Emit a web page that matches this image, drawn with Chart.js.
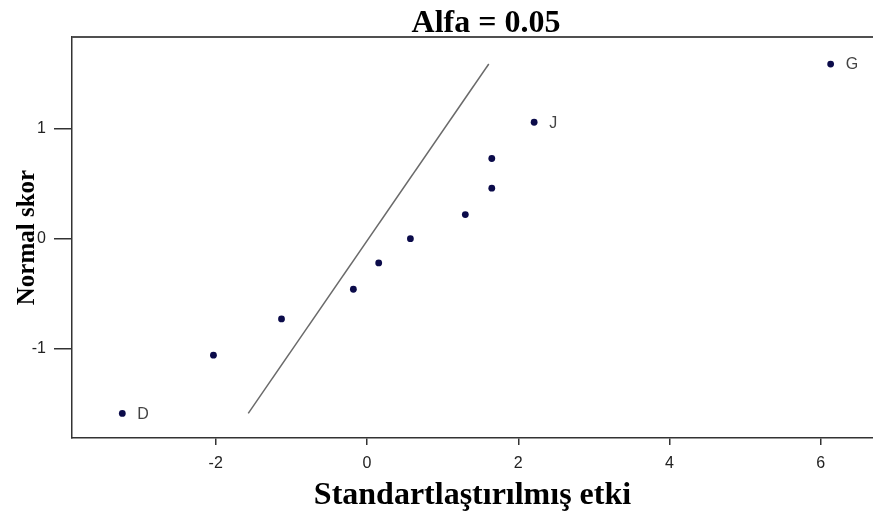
<!DOCTYPE html>
<html><head><meta charset="utf-8">
<script src="https://cdn.jsdelivr.net/npm/chart.js@4"></script>
<style>html,body{margin:0;padding:0;background:#fff;} canvas{display:block}</style>
</head><body>
<canvas id="c" width="873" height="515"></canvas>
<script>
const effectX = [-3.235, -2.03, -1.13, -0.18, 0.155, 0.574, 1.30, 1.65, 1.65, 2.21, 6.13];
const normalScore = [-1.59, -1.06, -0.73, -0.46, -0.22, 0, 0.22, 0.46, 0.73, 1.06, 1.59];
const pointNames = ['D', '', '', '', '', '', '', '', '', 'J', 'G'];
const refLineX = [-1.57, 1.61];
const refLineY = [-1.59, 1.59];
const xTicks = [-2, 0, 2, 4, 6];
const yTicks = [-1, 0, 1];
const titleText = 'Alfa = 0.05';
const xTitle = 'Standartlaştırılmış etki';
const yTitle = 'Normal skor';

const pts = effectX.map((x, i) => ({x: x, y: normalScore[i]}));
const linePts = refLineX.map((x, i) => ({x: x, y: refLineY[i]}));

const extras = {
  id: 'extras',
  afterDatasetsDraw(chart) {
    const ctx = chart.ctx;
    const meta = chart.getDatasetMeta(1);
    ctx.save();
    ctx.font = '16px "Liberation Sans", Arial, sans-serif';
    ctx.fillStyle = '#444';
    ctx.textAlign = 'left';
    ctx.textBaseline = 'middle';
    pointNames.forEach((n, i) => {
      if (!n) return;
      const el = meta.data[i];
      ctx.fillText(n, el.x + 15, el.y + 1);
    });
    ctx.restore();
  },
  afterDraw(chart) {
    const ctx = chart.ctx;
    const a = chart.chartArea;
    ctx.save();
    ctx.strokeStyle = '#505050';
    ctx.lineWidth = 2;
    ctx.beginPath();
    ctx.moveTo(a.left, a.top);
    ctx.lineTo(a.right, a.top);
    ctx.stroke();
    ctx.font = 'bold 32px "Liberation Serif", "Times New Roman", serif';
    ctx.fillStyle = '#000';
    ctx.textAlign = 'center';
    ctx.textBaseline = 'alphabetic';
    ctx.fillText(titleText, 486, 32);
    ctx.restore();
  }
};

new Chart(document.getElementById('c'), {
  type: 'scatter',
  data: {
    datasets: [
      {
        type: 'line',
        data: linePts,
        borderColor: '#6a6a6a',
        borderWidth: 1.5,
        pointRadius: 0,
        fill: false,
        showLine: true
      },
      {
        data: pts,
        backgroundColor: '#0b0b4a',
        borderColor: '#0b0b4a',
        pointRadius: 3.4,
        pointBorderWidth: 0
      }
    ]
  },
  options: {
    responsive: false,
    animation: false,
    devicePixelRatio: 1,
    layout: {autoPadding: false, padding: {top: 37, left: 0, right: 0, bottom: 0}},
    plugins: {legend: {display: false}, tooltip: {enabled: false}, title: {display: false}},
    scales: {
      x: {
        type: 'linear',
        min: -3.9,
        max: 6.69,
        afterBuildTicks: s => { s.ticks = xTicks.map(v => ({value: v})); },
        afterFit: s => { s.height = 77; s.paddingLeft = 0; s.paddingRight = 0; },
        grid: {drawOnChartArea: false, drawTicks: true, tickLength: 7, color: '#333', lineWidth: 1.5},
        border: {display: true, color: '#333', width: 1.5},
        ticks: {font: {family: '"Liberation Sans", Arial, sans-serif', size: 16}, color: '#222', padding: 9},
        title: {display: true, text: xTitle, color: '#000', font: {family: '"Liberation Serif", "Times New Roman", serif', size: 32, weight: 'bold'}, padding: {top: 0, bottom: 0}}
      },
      y: {
        type: 'linear',
        min: -1.814,
        max: 1.836,
        afterBuildTicks: s => { s.ticks = yTicks.map(v => ({value: v})); },
        afterFit: s => { s.width = 72; s.paddingTop = 0; s.paddingBottom = 0; },
        grid: {drawOnChartArea: false, drawTicks: true, tickLength: 18, color: '#333', lineWidth: 1.5},
        border: {display: true, color: '#333', width: 1.5},
        ticks: {font: {family: '"Liberation Sans", Arial, sans-serif', size: 16}, color: '#222', padding: 8},
        title: {display: true, text: yTitle, color: '#000', font: {family: '"Liberation Serif", "Times New Roman", serif', size: 25, weight: 'bold'}, padding: {top: 13, bottom: 0}}
      }
    }
  },
  plugins: [extras]
});
</script>
</body></html>
